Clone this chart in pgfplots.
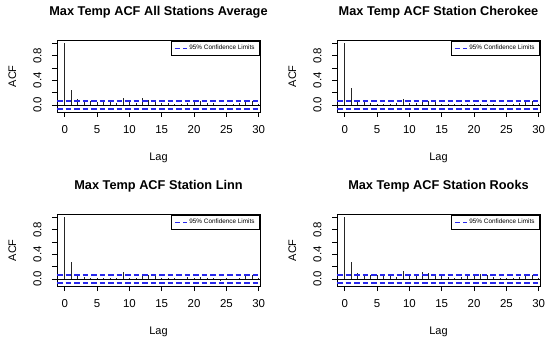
\documentclass[border=0pt]{standalone}
\usepackage{fontspec}
\setmainfont{Liberation Sans}
\usepackage{pgfplots}
\pgfplotsset{compat=1.18}
\definecolor{ciblue}{RGB}{40,40,235}
\pgfplotsset{acfstyle/.style={
  width=203bp, height=71.3bp, scale only axis,
  xmin=-1.2, xmax=30.2, ymin=-0.113, ymax=1.043,
  xtick={0,5,...,30}, ytick={0,0.2,0.4,0.6,0.8,1.0},
  yticklabels={0.0,,0.4,,0.8,},
  tick align=outside, major tick length=5bp,
  xtick pos=bottom, ytick pos=left,
  axis line style={line width=0.8bp},
  tick style={line width=0.8bp, black},
  /pgf/number format/assume math mode=true,
  tick label style={font=\fontsize{11.5}{13}\selectfont},
  xticklabel style={yshift=-5bp},
  yticklabel style={xshift=-7bp, rotate=90, anchor=south},
  xlabel={Lag}, ylabel={ACF},
  label style={font=\fontsize{11}{13}\selectfont},
  xlabel style={at={([yshift=-48.7bp]axis description cs:0.5,0)}, anchor=base},
  ylabel style={at={([xshift=-41bp]axis description cs:0,0.5)}, anchor=base},
  title style={at={([yshift=19bp]axis description cs:0.5,1)}, anchor=base, font=\bfseries\fontsize{12.8}{14}\selectfont},
  legend style={at={(rel axis cs:1,1)}, anchor=north east, draw=black, line width=0.8bp,
    font=\fontsize{6.4}{7.5}\selectfont, inner xsep=3bp, inner ysep=2bp},
  legend cell align=left,
  legend image code/.code={\draw[#1] (0bp,0bp) -- (12bp,0bp);},
}}
\newcommand{\acfdecor}{%
  \addplot[black, line width=0.8bp, forget plot] coordinates {(-1.2,0) (30.2,0)};
  \addplot[draw=ciblue, line width=1.2bp, dash pattern=on 5.5bp off 3bp] coordinates {(-1.2,0.065) (30.2,0.065)};
  \addlegendentry{95\% Confidence Limits}
  \addplot[draw=ciblue, line width=1.2bp, dash pattern=on 5.5bp off 3bp, forget plot] coordinates {(-1.2,-0.065) (30.2,-0.065)};
}
\begin{document}
\begin{tikzpicture}
\useasboundingbox (0,0) rectangle (550bp,342bp);
% Panel 1
\begin{axis}[acfstyle, at={(57bp,230bp)}, anchor=south west, title={Max Temp ACF All Stations Average}]
\addplot[ycomb, black!85, line width=0.7bp, forget plot] coordinates {
(0,1) (1,0.25) (2,0.09) (3,0.06) (4,0.07) (5,0.05) (6,0.06) (7,0.05) (8,0.03) (9,0.12)
(10,0.05) (11,0.04) (12,0.11) (13,0.08) (14,0.07) (15,0.03) (16,0.03) (17,0.02) (18,0.02) (19,0.04)
(20,0.05) (21,0.06) (22,0.04) (23,0.03) (24,-0.02) (25,0.02) (26,0.02) (27,0.03) (28,0.06) (29,0.06) (30,0.02)};
\acfdecor
\end{axis}
% Panel 2
\begin{axis}[acfstyle, at={(337bp,230bp)}, anchor=south west, title={Max Temp ACF Station Cherokee}]
\addplot[ycomb, black!85, line width=0.7bp, forget plot] coordinates {
(0,1) (1,0.27) (2,0.07) (3,0.07) (4,0.04) (5,0.02) (6,0.02) (7,0.02) (8,0.03) (9,0.10)
(10,0.04) (11,0.03) (12,0.08) (13,0.07) (14,0.05) (15,0.02) (16,0.01) (17,0.01) (18,0.02) (19,0.01)
(20,0.02) (21,0.01) (22,0.01) (23,0.02) (24,-0.01) (25,0.01) (26,0.02) (27,0.04) (28,0.05) (29,0.07) (30,0.01)};
\acfdecor
\end{axis}
% Panel 3
\begin{axis}[acfstyle, at={(57bp,56bp)}, anchor=south west, title={Max Temp ACF Station Linn}]
\addplot[ycomb, black!85, line width=0.7bp, forget plot] coordinates {
(0,1) (1,0.27) (2,0.06) (3,0.03) (4,0.01) (5,0.01) (6,0.02) (7,0.01) (8,0.02) (9,0.11)
(10,0.02) (11,0.01) (12,0.06) (13,0.06) (14,0.05) (15,0.01) (16,0.01) (17,0.01) (18,-0.01) (19,0.03)
(20,0.02) (21,0.04) (22,0.02) (23,0.01) (24,-0.03) (25,0.01) (26,-0.01) (27,0.01) (28,0.05) (29,0.06) (30,0.01)};
\acfdecor
\end{axis}
% Panel 4
\begin{axis}[acfstyle, at={(337bp,56bp)}, anchor=south west, title={Max Temp ACF Station Rooks}]
\addplot[ycomb, black!85, line width=0.7bp, forget plot] coordinates {
(0,1) (1,0.28) (2,0.10) (3,0.07) (4,0.07) (5,0.06) (6,0.05) (7,0.06) (8,0.04) (9,0.13)
(10,0.05) (11,0.06) (12,0.12) (13,0.09) (14,0.08) (15,0.05) (16,0.04) (17,0.02) (18,0.03) (19,0.05)
(20,0.06) (21,0.08) (22,0.07) (23,0.03) (24,0.01) (25,0.02) (26,0.01) (27,0.04) (28,0.06) (29,0.06) (30,0.01)};
\acfdecor
\end{axis}
\end{tikzpicture}
\end{document}
